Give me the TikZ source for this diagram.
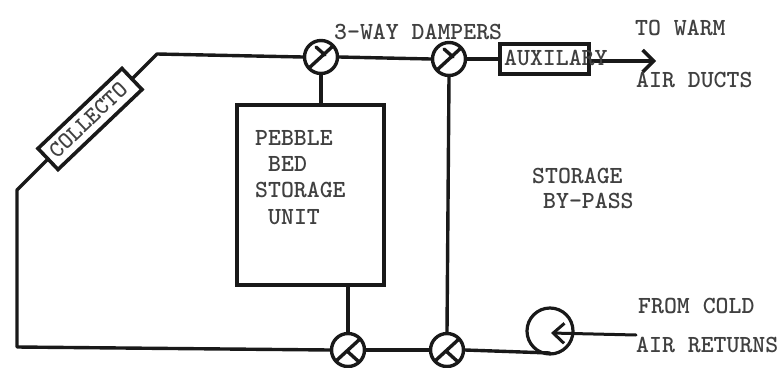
\documentclass[tikz,border=0pt]{standalone}
\usetikzlibrary{arrows.meta,calc}
\tikzset{
  pipe/.style={line width=3.4pt,black!90,line cap=round,line join=round},
  damper/.style={circle,draw=black!90,line width=3.4pt,minimum size=33pt,inner sep=0pt,fill=white},
  fan/.style={circle,draw=black!90,line width=3.2pt,minimum size=46pt,inner sep=0pt,fill=white},
  boxed/.style={draw=black!90,line width=3.6pt,inner sep=0pt,fill=white},
  lbl/.style={inner sep=0pt,anchor=base west,text=black!75,font=\fontsize{24.6}{27}\ttfamily\bfseries},
}
\begin{document}
\begin{tikzpicture}[x=1pt,y=-1pt]
\useasboundingbox (0,0) rectangle (779,367);
% Nodes
\node[damper] (d1) at (321,57) {};
\node[damper] (d2) at (449,59) {};
\node[damper] (d3) at (348,350) {};
\node[damper] (d4) at (447,350) {};
\node[fan] (fan) at (550,331) {};
\node[boxed,minimum width=147pt,minimum height=180pt] (bed) at (310.5,195) {};
\node[boxed,minimum width=89pt,minimum height=30pt] (aux) at (544.5,59) {};
\node[boxed,minimum width=116pt,minimum height=29pt,rotate=43.6] (coll) at (90,119) {};
\coordinate (t1) at (157,54);
\coordinate (b1) at (17,347);
\coordinate (b1a) at (17,190);
\coordinate (fanb) at (550,353);
\coordinate (outend) at (656,61);
\coordinate (retend) at (636,335);
\coordinate (fanin) at (551,333);
% Connectors
\draw[pipe] (coll.east) -- (t1) -- (d1.west);
\draw[pipe] (coll.west) -- (b1a) -- (b1) -- (d3.west);
\draw[pipe] (d1.east) -- (d2.west);
\draw[pipe] (d2.east) -- (aux.west);
\draw[pipe] (d1.south) -- (bed.north -| d1.south);
\draw[pipe] (bed.south -| d3.north) -- (d3.north);
\draw[pipe] (d2.south) -- (d4.north);
\draw[pipe] (d3.east) -- (d4.west);
\draw[pipe] (d4.east) -- (fanb);
\draw[pipe,-{Straight Barb[length=11pt,width=22pt,line width=3.4pt]}] (aux.east |- outend) -- (outend);
\draw[pipe,line width=3pt,-{Straight Barb[length=11pt,width=20pt,line width=3pt]}] (retend) -- (fanin);
% Damper blades
\foreach \n in {d1,d2}{
  \draw[pipe] ($(\n.center)+(-12,11)$) -- ($(\n.center)+(12,-11)$);
  \draw[pipe] ($(\n.center)+(-5,-10)$) -- ($(\n.center)+(4,-2)$);
}
\foreach \n in {d3,d4}{
  \draw[pipe] ($(\n.center)+(-12,11)$) -- ($(\n.center)+(12,-11)$);
  \draw[pipe] ($(\n.center)+(-1,1)$) -- ($(\n.center)+(10,11)$);
}
% Labels
\node[lbl] (l1) at (334,39) {3-WAY DAMPERS};
\node[lbl] (l2) at (635,35) {TO WARM};
\node[lbl] (l3) at (636,87) {AIR DUCTS};
\node[lbl] (l4) at (532,183) {STORAGE};
\node[lbl] (l5) at (543,208) {BY-PASS};
\node[lbl] (l6) at (638,313) {FROM COLD};
\node[lbl] (l7) at (636,352) {AIR RETURNS};
\node[lbl] (l8) at (255,145) {PEBBLE};
\node[lbl] (l9) at (268,171) {BED};
\node[lbl] (l10) at (255,197) {STORAGE};
\node[lbl] (l11) at (268,224) {UNIT};
\node[lbl] (l12) at (504,65) {AUXILARY};
\node[inner sep=0pt,text=black!75,rotate=43.6,font=\fontsize{23.5}{25}\ttfamily\bfseries] (l13) at (88,120) {COLLECTO};
\end{tikzpicture}
\end{document}
